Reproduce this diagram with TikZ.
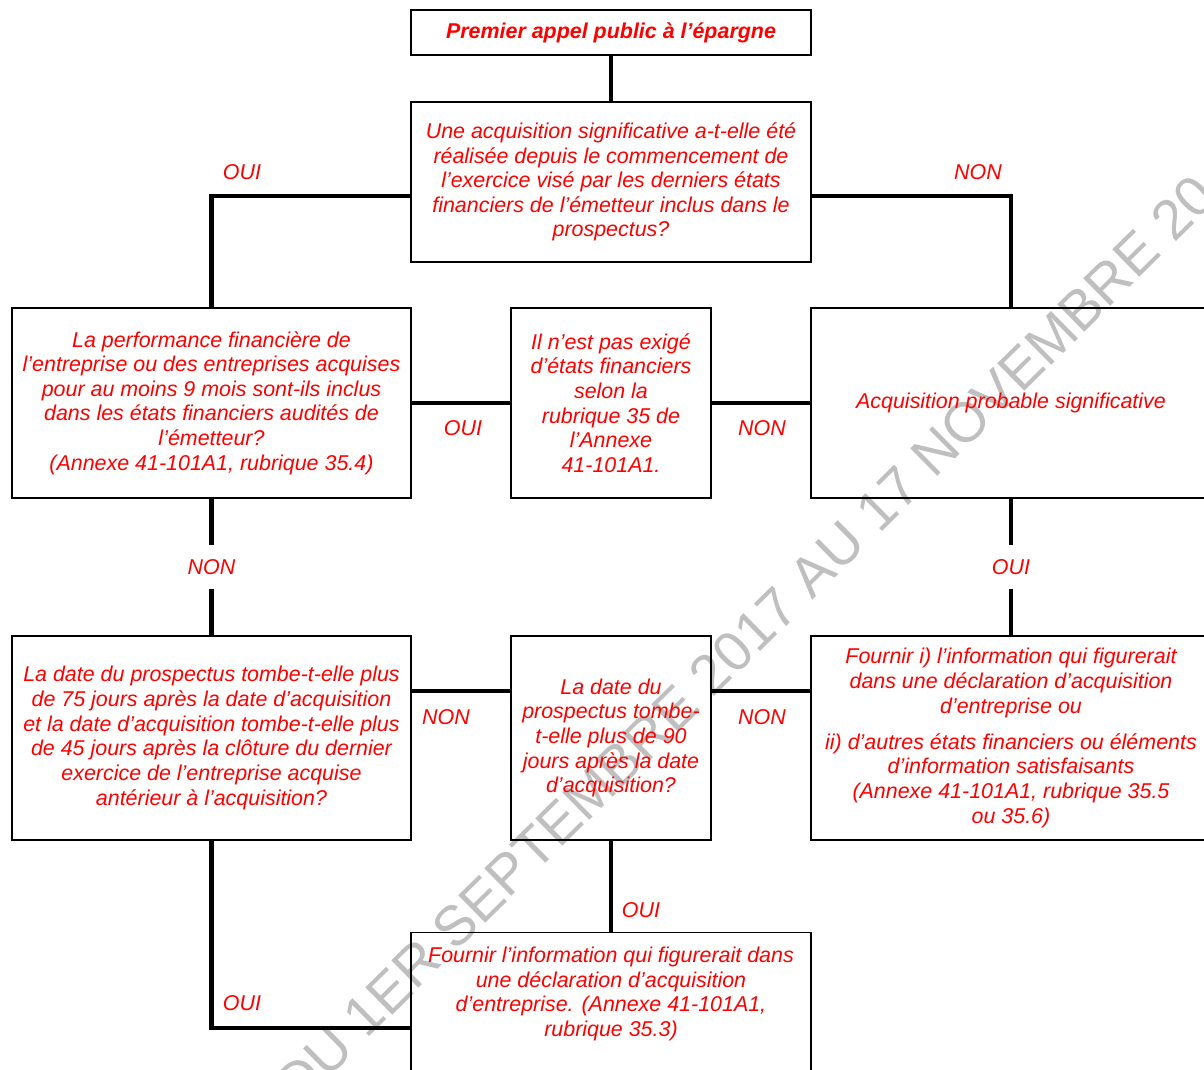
\documentclass[tikz,border=0pt]{standalone}
\usepackage{fontspec}
\setmainfont{Liberation Sans}
\usepackage{tikz}
\usetikzlibrary{calc}
\newcommand{\pxu}{0.56pt}

\begin{document}
\begin{tikzpicture}[x=0.56pt, y=-0.56pt,
  boite/.style={draw, line width=0.8pt, inner sep=0pt, align=center, text=red,
    font=\itshape\fontsize{12}{13.8}\selectfont},
  lien/.style={line width=2.3pt},
  etiq/.style={text=red, inner sep=1pt, font=\itshape\fontsize{12}{13.8}\selectfont},
  etiqfond/.style={etiq, fill=white, inner ysep=8pt}]
\useasboundingbox (0,0) rectangle (1204,1070);
\clip (0,0) rectangle (1204,1070);

\node[rotate=44.6, text=black!25, inner sep=0pt, font=\fontsize{31.4}{36}\selectfont] (filigrane) at (745,640) {DU 1ER SEPTEMBRE 2017 AU 17 NOVEMBRE 20};

\node[boite, minimum width=400*\pxu, minimum height=45*\pxu, font=\bfseries\itshape\fontsize{12}{13.8}\selectfont] (appel) at (611,32.5) {Premier appel public à l’épargne};
\node[boite, minimum width=400*\pxu, minimum height=160*\pxu] (acq) at (611,182) {Une acquisition significative a-t-elle été\\réalisée depuis le commencement de\\l’exercice visé par les derniers états\\financiers de l’émetteur inclus dans le\\prospectus?};

\node[boite, minimum width=399*\pxu, minimum height=190*\pxu] (perf) at (211.5,403) {La performance financière de\\l’entreprise ou des entreprises acquises\\pour au moins 9 mois sont-ils inclus\\dans les états financiers audités de\\l’émetteur?\\(Annexe 41-101A1, rubrique 35.4)};
\node[boite, minimum width=200*\pxu, minimum height=190*\pxu] (nonexig) at (611,403) {Il n’est pas exigé\\d’états financiers\\selon la\\rubrique 35 de\\l’Annexe\\41-101A1.};
\node[boite, minimum width=400*\pxu, minimum height=190*\pxu] (probable) at (1011,403) {Acquisition probable significative};

\node[boite, minimum width=399*\pxu, minimum height=204*\pxu] (date75) at (211.5,738) {La date du prospectus tombe-t-elle plus\\de 75 jours après la date d’acquisition\\et la date d’acquisition tombe-t-elle plus\\de 45 jours après la clôture du dernier\\exercice de l’entreprise acquise\\antérieur à l’acquisition?};
\node[boite, minimum width=200*\pxu, minimum height=204*\pxu] (date90) at (611,738) {La date du\\prospectus tombe-\\t-elle plus de 90\\jours après la date\\d’acquisition?};
\node[boite, minimum width=400*\pxu, minimum height=204*\pxu] (fournir2) at (1011,738) {Fournir i) l’information qui figurerait\\dans une déclaration d’acquisition\\d’entreprise ou\\[6.4pt]ii) d’autres états financiers ou éléments\\d’information satisfaisants\\(Annexe 41-101A1, rubrique 35.5\\ou 35.6)};

\node[boite, anchor=north, minimum width=400*\pxu, minimum height=170*\pxu] (fournir1) at (611,932) {};
\node[etiq, align=center, inner sep=0pt] (fournir1txt) at (611,994) {Fournir l’information qui figurerait dans\\une déclaration d’acquisition\\d’entreprise. (Annexe 41-101A1,\\rubrique 35.3)};

\draw[lien] (appel) -- (acq);
\draw[lien] ([yshift=-14*\pxu]acq.west) -| (perf.north);
\draw[lien] ([yshift=-14*\pxu]acq.east) -| (probable.north);
\draw[lien] (perf) -- (nonexig);
\draw[lien] (probable) -- (nonexig);
\draw[lien] (perf) -- node[etiqfond] (non3) {NON} (date75);
\draw[lien] (probable) -- node[etiqfond] (oui3) {OUI} (fournir2);
\draw[lien] ([yshift=47*\pxu]date75.east) -- ([yshift=47*\pxu]date90.west);
\draw[lien] ([yshift=47*\pxu]fournir2.west) -- ([yshift=47*\pxu]date90.east);
\draw[lien] (date90) -- (fournir1);
\draw[lien] (date75.south) |- ([yshift=-10*\pxu]fournir1.west);

\node[etiq] (oui1) at (242,172) {OUI};
\node[etiq] (non1) at (978,172) {NON};
\node[etiq] (oui2) at (463,428) {OUI};
\node[etiq] (non2) at (762,428) {NON};
\node[etiq] (non4) at (446,717) {NON};
\node[etiq] (non5) at (762,717) {NON};
\node[etiq] (oui4) at (641,910) {OUI};
\node[etiq] (oui5) at (242,1003) {OUI};
\end{tikzpicture}
\end{document}
